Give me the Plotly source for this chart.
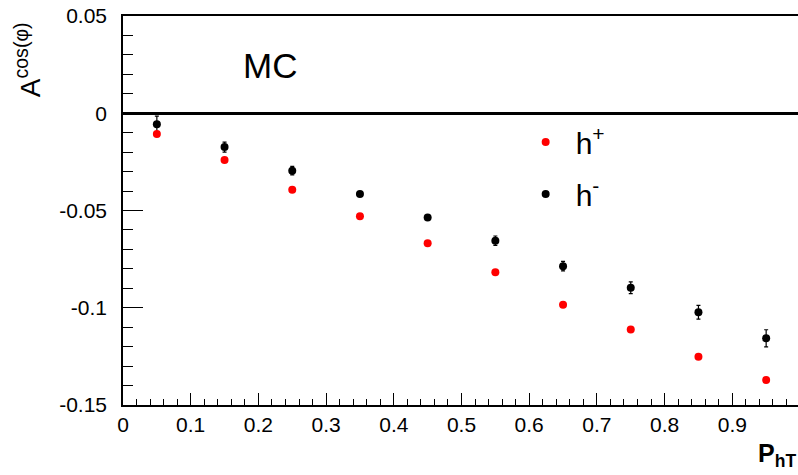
import plotly.graph_objects as go

pht = [0.05, 0.15, 0.25, 0.35, 0.45, 0.55, 0.65, 0.75, 0.85, 0.95]
a_hplus = [-0.0107, -0.0241, -0.0393, -0.0529, -0.0669, -0.0817, -0.0984, -0.1112, -0.1252, -0.1372]
a_hminus = [-0.0057, -0.0174, -0.0295, -0.0415, -0.0536, -0.0655, -0.0786, -0.0897, -0.1023, -0.1157]
err_hminus = [0.0042, 0.0026, 0.0022, 0.0010, 0.0010, 0.0024, 0.0024, 0.0030, 0.0035, 0.0044]

x_tickvals = [0, 0.1, 0.2, 0.3, 0.4, 0.5, 0.6, 0.7, 0.8, 0.9, 1.0]
x_ticktext = ["0", "0.1", "0.2", "0.3", "0.4", "0.5", "0.6", "0.7", "0.8", "0.9", "1"]
y_tickvals = [-0.15, -0.1, -0.05, 0, 0.05]
y_ticktext = ["-0.15", "-0.1", "-0.05", "0", "0.05"]

FONT = "Liberation Sans, Arial, sans-serif"

fig = go.Figure()
fig.add_trace(go.Scatter(
    x=pht, y=a_hminus, mode="markers", name="h<sup>-</sup>",
    marker=dict(color="black", size=8),
    error_y=dict(type="data", array=err_hminus, color="black", thickness=1.2, width=2),
    legendgroup="b", legendrank=2,
))
fig.add_trace(go.Scatter(
    x=pht, y=a_hplus, mode="markers", name="h<sup>+</sup>",
    marker=dict(color="#ff0000", size=8),
    legendgroup="a", legendrank=1,
))

fig.update_layout(
    width=800, height=475,
    margin=dict(l=123, r=0, t=16, b=70),
    paper_bgcolor="white", plot_bgcolor="white",
    font=dict(family=FONT, color="black", size=21),
    showlegend=True,
    legend=dict(x=0.58, y=0.743, xanchor="left", yanchor="top",
                font=dict(size=30, family=FONT), bgcolor="rgba(0,0,0,0)",
                itemwidth=50, tracegroupgap=10),
    xaxis=dict(range=[0, 1.0], showgrid=False, zeroline=False, automargin=False,
               showline=True, linecolor="black", linewidth=1.5, mirror=True,
               ticks="inside", ticklen=12, tickwidth=1, tickcolor="black",
               tickvals=x_tickvals, ticktext=x_ticktext,
               minor=dict(dtick=0.02, tick0=0, ticks="inside", ticklen=6, tickcolor="black", tickwidth=1),
               tickfont=dict(size=21, family=FONT)),
    yaxis=dict(range=[-0.15, 0.05], showgrid=False, automargin=False,
               zeroline=True, zerolinecolor="black", zerolinewidth=2.5,
               showline=True, linecolor="black", linewidth=1.5, mirror=True,
               ticks="inside", ticklen=20, tickwidth=1, tickcolor="black",
               tickvals=y_tickvals, ticktext=y_ticktext,
               minor=dict(dtick=0.01, tick0=0, ticks="inside", ticklen=10, tickcolor="black", tickwidth=1),
               tickfont=dict(size=21, family=FONT), ticklabelstandoff=10),
)

fig.add_annotation(text="MC", xref="paper", yref="paper", x=0.174, y=0.872,
                   xanchor="left", yanchor="middle", showarrow=False,
                   font=dict(size=35, family=FONT, color="black"))
fig.add_annotation(text="<b>P<sub>hT</sub></b>", xref="paper", yref="paper", x=0.935, y=-0.0823,
                   xanchor="left", yanchor="top", showarrow=False,
                   font=dict(size=25, family=FONT, color="black"))
fig.add_annotation(text="A<sup>cos(φ)</sup>", xref="paper", yref="paper", x=-0.139, y=0.99,
                   xanchor="center", yanchor="top", textangle=-90, showarrow=False,
                   font=dict(size=28, family=FONT, color="black"))

fig.write_html("out.html", config={"displayModeBar": False},
               post_script="document.body.style.margin='0';document.body.style.overflow='hidden';")
